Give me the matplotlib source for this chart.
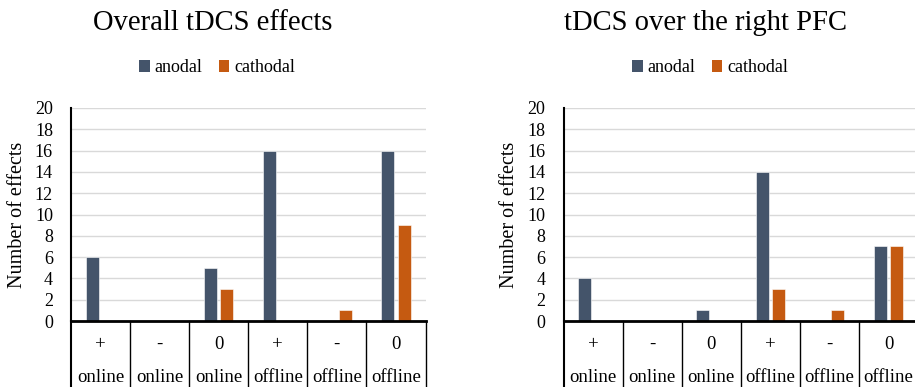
import matplotlib
matplotlib.use("Agg")
import matplotlib.pyplot as plt
from matplotlib.patches import Patch

plt.rcParams['font.family'] = ['Liberation Serif', 'DejaVu Serif']

signs = ['+', '-', '0', '+', '-', '0']
modes = ['online', 'online', 'online', 'offline', 'offline', 'offline']
series = ['anodal', 'cathodal']
colors = ['#44546A', '#C55A11']

left_title = 'Overall tDCS effects'
left_anodal = [6, 0, 5, 16, 0, 16]
left_cathodal = [0, 0, 3, 0, 1, 9]

right_title = 'tDCS over the right PFC'
right_anodal = [4, 0, 1, 14, 0, 7]
right_cathodal = [0, 0, 0, 3, 1, 7]

W, H = 915, 387
fig = plt.figure(figsize=(W / 100, H / 100), dpi=100)


def panel(x0px, title, anodal, cathodal, title_cx, legend_cx):
    ax = fig.add_axes([x0px / W, (H - 321) / H, 354.5 / W, 213 / H])
    n = len(signs)
    xs = list(range(n))
    bw = 0.22
    off = 0.14
    ax.bar([x - off for x in xs], anodal, width=bw, color=colors[0],
           edgecolor='white', linewidth=0.4, zorder=3)
    ax.bar([x + off for x in xs], cathodal, width=bw, color=colors[1],
           edgecolor='white', linewidth=0.4, zorder=3)
    ax.set_xlim(-0.5, n - 0.5)
    ax.set_ylim(0, 20)
    ax.set_yticks(range(0, 21, 2))
    ax.yaxis.grid(True, color='#D9D9D9', linewidth=1.0, zorder=0)
    ax.set_axisbelow(True)
    ax.tick_params(axis='y', length=0, pad=13, labelsize=13)
    ax.set_xticks([])
    for s in ['top', 'right']:
        ax.spines[s].set_visible(False)
    ax.spines['left'].set_linewidth(1.5)
    ax.spines['bottom'].set_linewidth(2)
    ax.spines['left'].set_zorder(5)
    ax.spines['bottom'].set_zorder(5)
    ax.set_ylabel('Number of effects', fontsize=14.5)
    ax.yaxis.set_label_coords(-0.125, 0.5)
    # table-like category axis
    for i in range(n + 1):
        lw = 1.5 if i == 0 else 1.0
        ax.plot([i - 0.5, i - 0.5], [0, -7], color='black', lw=lw,
                clip_on=False, zorder=5)
    for i in range(n):
        ax.text(i, -2.2, signs[i], ha='center', va='center', fontsize=13.5,
                clip_on=False)
        ax.text(i, -5.3, modes[i], ha='center', va='center', fontsize=13.5,
                clip_on=False)
    fig.text(title_cx / W, 1 - 23 / H, title, ha='center', va='center',
             fontsize=20.6)
    handles = [Patch(facecolor=c, edgecolor='none') for c in colors]
    fig.legend(handles, series, loc='center',
               bbox_to_anchor=(legend_cx / W, 1 - 68 / H), ncol=2,
               frameon=False, fontsize=13, handlelength=0.6,
               handleheight=0.6, handletextpad=0.25, columnspacing=0.9)
    return ax


ax1 = panel(71, left_title, left_anodal, left_cathodal, 213, 217)
ax2 = panel(563.5, right_title, right_anodal, right_cathodal, 706, 710)

fig.savefig('out.png', dpi=100)
